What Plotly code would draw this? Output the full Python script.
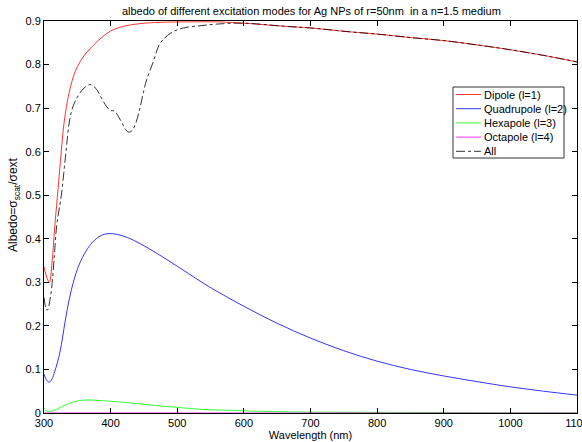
import plotly.graph_objects as go

# Wavelength grids (nm) and albedo values for each excitation mode
wl_dipole = [300, 304, 308, 312, 316, 320, 325, 330, 335, 340, 344, 350, 360, 369,
             385, 400, 420, 444, 474, 520, 560, 600, 660, 700, 760, 800, 850, 900,
             955, 1000, 1050, 1100]
albedo_dipole = [0.336, 0.312, 0.300, 0.345, 0.425, 0.495, 0.585, 0.665, 0.715, 0.750,
                 0.772, 0.795, 0.820, 0.836, 0.860, 0.877, 0.888, 0.894, 0.897, 0.898,
                 0.898, 0.895, 0.888, 0.884, 0.875, 0.870, 0.862, 0.855, 0.844, 0.834,
                 0.821, 0.806]

wl_quad = [300, 304, 308, 312, 316, 320, 324, 328, 332, 338, 344, 352, 364, 376, 388,
           398, 410, 425, 444, 470, 500, 534, 560, 600, 650, 700, 750, 800, 850, 900,
           950, 1000, 1050, 1100]
albedo_quad = [0.089, 0.075, 0.071, 0.078, 0.095, 0.115, 0.140, 0.175, 0.213, 0.262,
               0.300, 0.338, 0.374, 0.397, 0.409, 0.412, 0.410, 0.403, 0.389, 0.366,
               0.337, 0.303, 0.279, 0.245, 0.206, 0.172, 0.143, 0.119, 0.100, 0.085,
               0.072, 0.060, 0.050, 0.041]

wl_hexa = [300, 306, 315, 330, 345, 364, 380, 400, 450, 474, 500, 534, 584, 620, 657,
           700, 822, 900, 1000, 1100]
albedo_hexa = [0.011, 0.003, 0.006, 0.017, 0.026, 0.030, 0.029, 0.027, 0.020, 0.016,
               0.013, 0.0085, 0.006, 0.004, 0.003, 0.002, 0.0015, 0.001, 0.0005, 0.0003]

wl_octa = [300, 500, 700, 900, 1100]
albedo_octa = [0.0, 0.0, 0.0, 0.0, 0.0]

wl_all = [300, 303, 305, 310, 315, 319, 326, 333, 338, 344, 352, 360, 369, 378, 384,
          392, 399, 406, 412, 417, 422, 427, 432, 437, 444, 449, 454, 464, 474, 490,
          509, 534, 560, 600, 660, 700, 760, 800, 850, 900, 955, 1000, 1050, 1100]
albedo_all = [0.265, 0.240, 0.236, 0.270, 0.350, 0.430, 0.500, 0.600, 0.668, 0.706,
              0.730, 0.746, 0.754, 0.745, 0.729, 0.708, 0.695, 0.693, 0.680, 0.666,
              0.652, 0.645, 0.648, 0.662, 0.700, 0.735, 0.765, 0.806, 0.848, 0.872,
              0.884, 0.889, 0.893, 0.895, 0.888, 0.884, 0.875, 0.870, 0.862, 0.855,
              0.844, 0.834, 0.821, 0.806]

x_ticks = [300, 400, 500, 600, 700, 800, 900, 1000, 1100]
y_ticks = [0, 0.1, 0.2, 0.3, 0.4, 0.5, 0.6, 0.7, 0.8, 0.9]
y_tick_labels = ["0", "0.1", "0.2", "0.3", "0.4", "0.5", "0.6", "0.7", "0.8", "0.9"]

FONT = "Liberation Sans, Arial, sans-serif"
W, H = 582, 442
M_L, M_R, M_T, M_B = 44, 5, 21, 29

series = [
    (wl_dipole, albedo_dipole, "Dipole (l=1)", "#ff0000", "solid"),
    (wl_quad, albedo_quad, "Quadrupole (l=2)", "#0000ff", "solid"),
    (wl_hexa, albedo_hexa, "Hexapole (l=3)", "#00ff00", "solid"),
    (wl_octa, albedo_octa, "Octapole (l=4)", "#ff00ff", "solid"),
    (wl_all, albedo_all, "All", "#000000", "dashdot"),
]

fig = go.Figure()
for xs, ys, name, color, dash in series:
    fig.add_trace(go.Scatter(
        x=xs, y=ys, name=name, mode="lines", showlegend=False,
        line=dict(color=color, width=0.8, dash=dash, shape="spline", smoothing=1.0),
    ))


def px_to_paper(px, py):
    """Convert page pixel position to paper coordinates of the plot area."""
    pw = W - M_L - M_R
    ph = H - M_T - M_B
    return (px - M_L) / pw, (H - M_B - py) / ph


# Compact boxed legend in the upper right of the axes
box_x0, box_y0 = px_to_paper(453, 87)
box_x1, box_y1 = px_to_paper(564, 158)
fig.add_shape(type="rect", xref="paper", yref="paper",
              x0=box_x0, y0=box_y1, x1=box_x1, y1=box_y0,
              line=dict(color="#333333", width=1), fillcolor="white", layer="above")
for i, (_, _, name, color, dash) in enumerate(series):
    row_y = 94.5 + i * 14.2
    lx0, ly = px_to_paper(456, row_y)
    lx1, _ = px_to_paper(481, row_y)
    tx, _ = px_to_paper(482, row_y)
    fig.add_shape(type="line", xref="paper", yref="paper",
                  x0=lx0, x1=lx1, y0=ly, y1=ly, layer="above",
                  line=dict(color=color, width=0.8, dash=dash))
    fig.add_annotation(text=name, xref="paper", yref="paper", x=tx, y=ly,
                       xanchor="left", yanchor="middle", showarrow=False,
                       font=dict(family=FONT, size=11, color="black"))

axis_common = dict(
    showline=True, linecolor="black", linewidth=1, mirror="ticks",
    ticks="inside", ticklen=5, tickcolor="black", tickwidth=1,
    showgrid=False, zeroline=False, automargin=False,
    tickfont=dict(family=FONT, size=11, color="black"),
)

fig.update_layout(
    width=W, height=H,
    margin=dict(l=M_L, r=M_R, t=M_T, b=M_B, autoexpand=False),
    paper_bgcolor="white", plot_bgcolor="white",
    font=dict(family=FONT, size=11, color="black"),
    title=dict(text="albedo of different excitation modes for Ag NPs of r=50nm  in a n=1.5 medium",
               x=0.535, xanchor="center", y=0.975, yanchor="middle",
               font=dict(family=FONT, size=11, color="black")),
    xaxis=dict(range=[300, 1100], tickvals=x_ticks, ticklabelstandoff=0,
               ticklabeloverflow="allow",
               title=dict(text="Wavelength (nm)", standoff=2,
                          font=dict(family=FONT, size=11)),
               **axis_common),
    yaxis=dict(range=[0, 0.9], tickvals=y_ticks, ticktext=y_tick_labels,
               **axis_common),
    showlegend=False,
)

lab_x, lab_y = px_to_paper(14, 205)
fig.add_annotation(
    text="Albedo=σ<sub>scat</sub>/σext", textangle=-90,
    xref="paper", yref="paper", x=lab_x, y=lab_y,
    xanchor="center", yanchor="middle", showarrow=False,
    font=dict(family=FONT, size=12, color="black"),
)

fig.write_html("out.html")
